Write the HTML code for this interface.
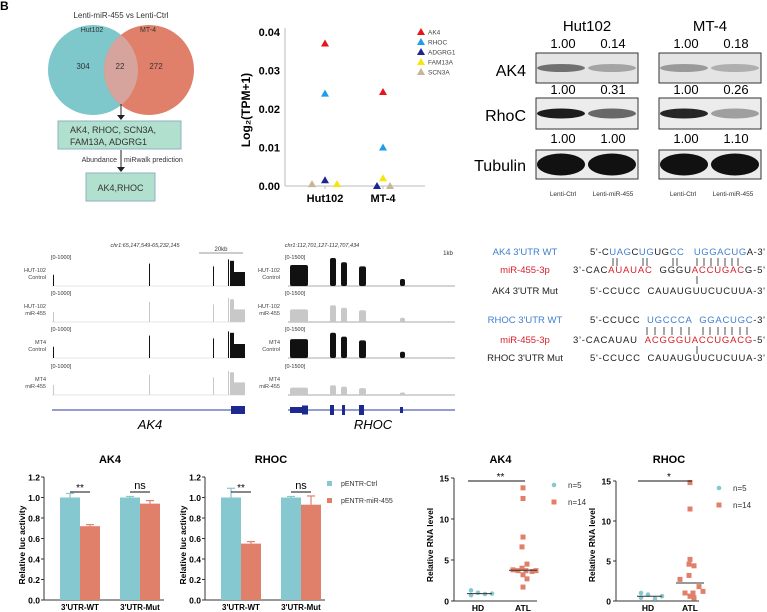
<!DOCTYPE html>
<html><head><meta charset="utf-8">
<style>
html,body{margin:0;padding:0;background:#fff;}
svg{display:block;font-family:"Liberation Sans",sans-serif;}
</style></head>
<body>
<svg id="fig" width="767" height="612" viewBox="0 0 767 612" xmlns="http://www.w3.org/2000/svg">
<g>
<text x="0" y="10" font-size="12" font-weight="bold">B</text>
<text x="121" y="18" font-size="8" text-anchor="middle" fill="#333">Lenti-miR-455 vs Lenti-Ctrl</text>
<circle cx="93" cy="70" r="45" fill="#7ec8cc"/>
<circle cx="149" cy="70" r="45" fill="#e0806b"/>
<path d="M121,34.8 A45,45 0 0,1 121,105.2 A45,45 0 0,1 121,34.8Z" fill="#d6a49c"/>
<text x="92" y="32" font-size="7" text-anchor="middle" fill="#333">Hut102</text>
<text x="148" y="32" font-size="7" text-anchor="middle" fill="#333">MT-4</text>
<text x="83" y="69" font-size="8" text-anchor="middle" fill="#333">304</text>
<text x="120" y="69" font-size="8" text-anchor="middle" fill="#333">22</text>
<text x="156" y="69" font-size="8" text-anchor="middle" fill="#333">272</text>
<line x1="121" y1="104" x2="121" y2="116" stroke="#222" stroke-width="1"/>
<path d="M117,115 L125,115 L121,120Z" fill="#222"/>
<rect x="58" y="121" width="123" height="28" fill="#b2e0cf" stroke="#8fb0c0"/>
<text x="70" y="133" font-size="9" fill="#333">AK4, RHOC, SCN3A,</text>
<text x="70" y="145" font-size="9" fill="#333">FAM13A, ADGRG1</text>
<line x1="121" y1="150" x2="121" y2="168" stroke="#222"/>
<path d="M117,167 L125,167 L121,172Z" fill="#222"/>
<text x="117" y="162" font-size="7" text-anchor="end" fill="#333">Abundance</text>
<text x="124" y="162" font-size="7" fill="#333">miRwalk prediction</text>
<rect x="86" y="173" width="69" height="28" fill="#b2e0cf" stroke="#8fb0c0"/>
<text x="120.5" y="191" font-size="9" text-anchor="middle" fill="#333">AK4,RHOC</text>
</g>
<g id="scatter"></g>
<g id="wb">
<text x="587" y="31" font-size="15" text-anchor="middle">Hut102</text>
<text x="710" y="31" font-size="15" text-anchor="middle">MT-4</text>
<text x="526" y="76" font-size="16" text-anchor="end">AK4</text>
<text x="526" y="121" font-size="16" text-anchor="end">RhoC</text>
<text x="526" y="171" font-size="16" text-anchor="end">Tubulin</text>
<text x="563" y="196" font-size="6.5" text-anchor="middle" fill="#333">Lenti-Ctrl</text>
<text x="613" y="196" font-size="6.5" text-anchor="middle" fill="#333">Lenti-miR-455</text>
<text x="683" y="196" font-size="6.5" text-anchor="middle" fill="#333">Lenti-Ctrl</text>
<text x="733" y="196" font-size="6.5" text-anchor="middle" fill="#333">Lenti-miR-455</text>
</g>
<g id="tracks"></g>
<g id="seq"></g>
<g id="bars"></g>
<g id="dots"></g>
</svg>
<script>
// ---------- data ----------
const scatterGroups = ["Hut102","MT-4"];
const scatterGenes = ["AK4","RHOC","ADGRG1","FAM13A","SCN3A"];
const scatterColors = ["#e8141c","#1e9ee8","#1c2590","#f5e60a","#c8b496"];
const scatterHut = [0.037,0.024,0.0015,0.0005,0.0005];
const scatterMT = [0.0244,0.010,0.0,0.002,0.0];
const scatterTicks = [0,0.01,0.02,0.03,0.04];

const wbNumbers = [["1.00","0.14","1.00","0.18"],["1.00","0.31","1.00","0.26"],["1.00","1.00","1.00","1.10"]];

const lucCats = ["3'UTR-WT","3'UTR-Mut"];
const ak4Ctrl = [1.0,1.0], ak4Ctrl_err=[0.04,0.01];
const ak4Mir = [0.72,0.94], ak4Mir_err=[0.015,0.03];
const rhocCtrl = [1.0,1.0], rhocCtrl_err=[0.09,0.01];
const rhocMir = [0.55,0.93], rhocMir_err=[0.02,0.085];
const lucTicks = [0,0.2,0.4,0.6,0.8,1.0,1.2];
const lucSig = ["**","ns"];
const rhocSig = ["**","ns"];

const dotCats = ["HD","ATL"];
const ak4HD = [1.3,0.7,1.0,0.85,0.9];
const ak4ATL = [13.8,12.5,7.8,6.6,4.5,4.0,3.8,3.6,3.7,3.7,3.7,3.2,2.7,1.7];
const rhocHD = [1.0,0.4,0.8,0.3,0.6];
const rhocATL = [14.8,11.5,5.2,4.6,4.4,3.2,2.7,1.8,1.0,1.0,1.2,0.6,0.4,0.6];
const dotTicks = [0,5,10,15];

// ---------- helpers ----------
const NS="http://www.w3.org/2000/svg";
function mk(parent,tag,attrs,name,txt){
  const el=document.createElementNS(NS,tag);
  for(const k in attrs) el.setAttribute(k,attrs[k]);
  
  
  if(txt!==undefined) el.textContent=txt;
  parent.appendChild(el); return el;
}
function tri(g,cx,cy,c,name){ mk(g,'path',{d:`M${cx-4},${cy+3} L${cx+4},${cy+3} L${cx},${cy-4}Z`,fill:c},name); }

// ---------- scatter ----------
(function(){
  const g=document.getElementById('scatter');
  const x0=285,y0=186,ppu=3850;
  const y=v=>y0-v*ppu;
  const gx=[325,383];
  mk(g,'line',{x1:x0,y1:28,x2:x0,y2:y0,stroke:'#bbb'},'y-axis');
  mk(g,'line',{x1:x0,y1:y0,x2:425,y2:y0,stroke:'#bbb'},'x-axis');
  scatterTicks.forEach(t=>{
    mk(g,'text',{x:x0-5,y:y(t)+4,'font-size':11,'font-weight':'bold','text-anchor':'end'},'y-tick-label',t.toFixed(2));
  });
  scatterGroups.forEach((s,i)=>{
    mk(g,'text',{x:gx[i],y:202,'font-size':11,'font-weight':'bold','text-anchor':'middle'},'x-tick-label',s);
    mk(g,'line',{x1:gx[i],y1:y0,x2:gx[i],y2:y0+3,stroke:'#bbb'},'x-tick');
  });
  mk(g,'text',{x:0,y:0,'font-size':12,'font-weight':'bold','text-anchor':'middle',transform:'translate(250,110) rotate(-90)'},'y-axis-title','Log\u2082(TPM+1)');
  const offsH=[0,0,0,12,-13], offsM=[0,0,-6,0,7];
  scatterGenes.forEach((gn,i)=>{
    tri(g,gx[0]+offsH[i],y(scatterHut[i]),scatterColors[i],'point-hut102-'+gn.toLowerCase());
    tri(g,gx[1]+offsM[i],y(scatterMT[i]),scatterColors[i],'point-mt4-'+gn.toLowerCase());
    tri(g,421,32+i*10,scatterColors[i],'legend-marker');
    mk(g,'text',{x:428,y:34.5+i*10,'font-size':6.5,fill:'#444'},'legend-entry',gn);
  });
})();

// ---------- western blot ----------
(function(){
  const g=document.getElementById('wb');
  const boxes=[[53,83],[98,129],[150,179]];
  const panels=[[536,638],[659,761]];
  const numY=[48,94,143];
  const darkness=[[0.55,0.3,0.35,0.25],[0.95,0.6,0.9,0.35],[1,1,1,1]];
  boxes.forEach((b,r)=>{
    panels.forEach((p,pi)=>{
      mk(g,'rect',{x:p[0],y:b[0],width:p[1]-p[0],height:b[1]-b[0],fill:r==0?'#e4e4e4':'#ececec',stroke:'#333','stroke-width':1},'blot-box');
      for(let l=0;l<2;l++){
        const d=darkness[r][pi*2+l];
        const cx=p[0]+25+l*51, cy=(b[0]+b[1])/2;
        const h=r==2?22:(r==1?10:8);
        mk(g,'ellipse',{cx:cx,cy:cy,rx:24,ry:h/2,fill:'#111','fill-opacity':d},'blot-band');
      }
      const xs=[p[0]+27,p[0]+77];
      for(let l=0;l<2;l++) mk(g,'text',{x:xs[l],y:numY[r],'font-size':13,'text-anchor':'middle'},'band-quantification',wbNumbers[r][pi*2+l]);
    });
  });
})();

// ---------- genome tracks ----------
(function(){
  const g=document.getElementById('tracks');
  const base=[286,322,358,395];
  const labs=[["HUT-102","Control"],["HUT-102","miR-455"],["MT4","Control"],["MT4","miR-455"]];
  const col=["#111","#c8c8c8","#111","#c8c8c8"];
  mk(g,'text',{x:145,y:247,'font-size':5.5,'font-style':'italic','text-anchor':'middle',fill:'#333'},'ak4-coord','chr1:65,147,549-65,232,145');
  mk(g,'line',{x1:199,y1:253,x2:243,y2:253,stroke:'#333','stroke-width':0.5},'scale-bar');
  mk(g,'text',{x:221,y:251,'font-size':6,'text-anchor':'middle',fill:'#333'},'scale-label','20kb');
  mk(g,'text',{x:322,y:247,'font-size':5.5,'font-style':'italic','text-anchor':'middle',fill:'#333'},'rhoc-coord','chr1:112,701,127-112,707,434');
  mk(g,'text',{x:448,y:255,'font-size':6,'text-anchor':'middle',fill:'#333'},'scale-label','1kb');
  const ak4Peaks=[[53,0.4,1],[149,0.8,1],[213,0.7,1],[228,0.95,1],[230,0.9,4],[234,0.5,11]];
  const rhocPeaks=[[290,0.75,18],[330,1,6],[341,0.85,6],[359,0.7,7],[400,0.25,5]];
  base.forEach((b,i)=>{
    const scale=[1,0.6,0.9,0.35][i];
    mk(g,'text',{x:51,y:b-27,'font-size':5.5,fill:'#333'},'track-range','[0-1000]');
    mk(g,'text',{x:285,y:b-27,'font-size':5.5,fill:'#333'},'track-range','[0-1500]');
    [46,280].forEach(x=>{
      mk(g,'text',{x:x,y:b-14,'font-size':5.5,'text-anchor':'end',fill:'#444'},'track-label',labs[i][0]);
      mk(g,'text',{x:x,y:b-7,'font-size':5.5,'text-anchor':'end',fill:'#444'},'track-label',labs[i][1]);
    });
    mk(g,'line',{x1:52,y1:b,x2:245,y2:b,stroke:'#ccc','stroke-width':0.6},'track-baseline');
    mk(g,'line',{x1:288,y1:b,x2:455,y2:b,stroke:'#555','stroke-width':0.6},'track-baseline');
    ak4Peaks.forEach(p=>{
      const h=p[1]*28*(i%2?0.9:1);
      mk(g,'rect',{x:p[0],y:b-h,width:p[2],height:h,fill:col[i]},'ak4-peak');
    });
    rhocPeaks.forEach(p=>{
      const h=p[1]*28*scale;
      mk(g,'rect',{x:p[0],y:b-h,width:p[2],height:h,rx:2,fill:col[i]},'rhoc-peak');
    });
  });
  mk(g,'line',{x1:52,y1:410,x2:245,y2:410,stroke:'#2a3aa0'},'ak4-gene-line');
  mk(g,'rect',{x:231,y:406,width:14,height:8,fill:'#1c2a90'},'ak4-exon');
  mk(g,'line',{x1:288,y1:410,x2:455,y2:410,stroke:'#2a3aa0'},'rhoc-gene-line');
  [[290,13,4],[302,6,7],[330,4,8],[342,3,8],[359,5,8],[400,3,4]].forEach(e=>{
    mk(g,'rect',{x:e[0],y:410-e[2]/2-1,width:e[1],height:e[2]+2,fill:'#1c2a90'},'rhoc-exon');
  });
  mk(g,'text',{x:150,y:429,'font-size':13,'font-style':'italic','text-anchor':'middle'},'gene-name-ak4','AK4');
  mk(g,'text',{x:373,y:429,'font-size':13,'font-style':'italic','text-anchor':'middle'},'gene-name-rhoc','RHOC');
})();

// ---------- sequences ----------
(function(){
  const g=document.getElementById('seq');
  const B='#3f7fd0',R='#d8202a',K='#222';
  const rows=[
    [255,'AK4 3\'UTR WT',B,590,[["5'-C",K],["UAG",B],["C",K],["UG",B],["UG",K],["CC",B],["\u00a0\u00a0\u00a0",K],["UGGACUG",B],["A-3'",K]]],
    [273,'miR-455-3p',R,573,[["3'-CAC",K],["AUAUAC",R],["\u00a0\u00a0",K],["GGGU",K],["ACCUGAC",R],["G-5'",K]]],
    [294,'AK4 3\'UTR Mut',K,590,[["5'-CCUCC\u00a0\u00a0CAUAUGUUCUCUUA-3'",K]]],
    [323,'RHOC 3\'UTR WT',B,590,[["5'-CCUCC\u00a0\u00a0",K],["UGCCCA",B],["\u00a0\u00a0",K],["GGACUGC",B],["-3'",K]]],
    [343,'miR-455-3p',R,573,[["3'-CACAUAU\u00a0\u00a0",K],["ACGGGUACCUGACG",R],["-5'",K]]],
    [361,'RHOC 3\'UTR Mut',K,590,[["5'-CCUCC\u00a0\u00a0CAUAUGUUCUCUUA-3'",K]]]
  ];
  rows.forEach(r=>{
    mk(g,'text',{x:525,y:r[0],'font-size':9.5,'text-anchor':'middle',fill:r[2]},'sequence-label',r[1]);
    const t=mk(g,'text',{x:r[3],y:r[0],'font-size':9.5,textLength:765-r[3],lengthAdjust:'spacing'},'sequence');
    r[4].forEach(s=>{ mk(t,'tspan',{fill:s[1]},'sequence-segment',s[0]); });
  });
  const ak4Pairs=[613,617,643,647,673,677,697,704,711,718,725,732,738];
  ak4Pairs.forEach(x=>mk(g,'line',{x1:x,y1:258,x2:x,y2:266,stroke:K,'stroke-width':0.8},'pairing-bar'));
  const rhocPairs=[647,655,664,672,681,689,703,710,718,725,732,740,747];
  rhocPairs.forEach(x=>mk(g,'line',{x1:x,y1:327,x2:x,y2:335,stroke:K,'stroke-width':0.8},'pairing-bar'));
  mk(g,'line',{x1:697,y1:276,x2:697,y2:284,stroke:K,'stroke-width':0.8},'mutation-bar');
  mk(g,'line',{x1:697,y1:346,x2:697,y2:354,stroke:K,'stroke-width':0.8},'mutation-bar');
})();

// ---------- bar charts ----------
(function(){
  const g=document.getElementById('bars');
  const C1='#86c8cf',C2='#e0806b';
  function chart(ax,title,ctrl,ce,mir,me,sig,name){
    const y0=600,ppu=102.5,y=v=>y0-v*ppu;
    const catX=[ax+36,ax+96];
    mk(g,'text',{x:ax+66,y:463,'font-size':11,'font-weight':'bold','text-anchor':'middle'},name+'-title',title);
    mk(g,'line',{x1:ax,y1:y(1.2),x2:ax,y2:y0,stroke:'#333'},name+'-y-axis');
    mk(g,'line',{x1:ax,y1:y0,x2:ax+120,y2:y0,stroke:'#333'},name+'-x-axis');
    lucTicks.forEach(t=>{
      mk(g,'line',{x1:ax-3,y1:y(t),x2:ax,y2:y(t),stroke:'#333'},'y-tick');
      mk(g,'text',{x:ax-4,y:y(t)+3.5,'font-size':8.5,'font-weight':'bold','text-anchor':'end'},'y-tick-label',t.toFixed(1));
    });
    mk(g,'text',{x:0,y:0,'font-size':8.5,'font-weight':'bold','text-anchor':'middle',transform:`translate(${ax-19},545) rotate(-90)`},'y-axis-title','Relative luc activity');
    lucCats.forEach((c,i)=>{
      const cx=catX[i];
      const ec=cx-10, em=cx+10;
      mk(g,'line',{x1:ec,y1:y(ctrl[i]),x2:ec,y2:y(ctrl[i]+ce[i]),stroke:C1,'stroke-width':1.2},'error-bar');
      mk(g,'line',{x1:ec-4,y1:y(ctrl[i]+ce[i]),x2:ec+4,y2:y(ctrl[i]+ce[i]),stroke:C1,'stroke-width':1.2},'error-cap');
      mk(g,'rect',{x:cx-20,y:y(ctrl[i]),width:20,height:ctrl[i]*ppu,fill:C1},'bar-ctrl-'+i);
      mk(g,'line',{x1:em,y1:y(mir[i]),x2:em,y2:y(mir[i]+me[i]),stroke:C2,'stroke-width':1.2},'error-bar');
      mk(g,'line',{x1:em-4,y1:y(mir[i]+me[i]),x2:em+4,y2:y(mir[i]+me[i]),stroke:C2,'stroke-width':1.2},'error-cap');
      mk(g,'rect',{x:cx,y:y(mir[i]),width:20,height:mir[i]*ppu,fill:C2},'bar-mir-'+i);
      mk(g,'text',{x:cx,y:610,'font-size':8,'font-weight':'bold','text-anchor':'middle'},'x-tick-label',c);
      mk(g,'line',{x1:cx-10,y1:492,x2:cx+10,y2:492,stroke:'#111'},'sig-line');
      mk(g,'text',{x:cx,y:sig[i]=='ns'?489:491,'font-size':sig[i]=='ns'?11:10,'text-anchor':'middle'},'sig-label',sig[i]);
    });
  }
  chart(44,'AK4',ak4Ctrl,ak4Ctrl_err,ak4Mir,ak4Mir_err,lucSig,'ak4-luc');
  chart(205,'RHOC',rhocCtrl,rhocCtrl_err,rhocMir,rhocMir_err,rhocSig,'rhoc-luc');
  mk(g,'rect',{x:327,y:481,width:5,height:5,fill:C1},'legend-marker');
  mk(g,'text',{x:341,y:486,'font-size':7,fill:'#333'},'legend-entry','pENTR-Ctrl');
  mk(g,'rect',{x:327,y:498,width:5,height:5,fill:C2},'legend-marker');
  mk(g,'text',{x:341,y:503,'font-size':7,fill:'#333'},'legend-entry','pENTR-miR-455');
})();

// ---------- dot plots ----------
(function(){
  const g=document.getElementById('dots');
  const C1='#86c8cf',C2='#e0806b';
  const jitHD=[-7,-7,0,7,14], jitATL=[0,0,0,-1,4,-1,-10,9,-5,3,13,0,4,0];
  function median(a){const s=[...a].sort((p,q)=>p-q);const m=s.length>>1;return s.length%2?s[m]:(s[m-1]+s[m])/2;}
  function plot(ax,top15,hdX,atlX,hd,atl,sig,title,legX,legY,name){
    const y0=601,ppu=(y0-top15)/15,y=v=>y0-v*ppu;
    mk(g,'text',{x:(hdX+atlX)/2,y:463,'font-size':11,'font-weight':'bold','text-anchor':'middle'},name+'-title',title);
    mk(g,'line',{x1:ax,y1:top15,x2:ax,y2:y0,stroke:'#333'},name+'-y-axis');
    mk(g,'line',{x1:ax,y1:y0,x2:ax+83,y2:y0,stroke:'#333'},name+'-x-axis');
    dotTicks.forEach(t=>{
      mk(g,'line',{x1:ax-3,y1:y(t),x2:ax,y2:y(t),stroke:'#333'},'y-tick');
      mk(g,'text',{x:ax-5,y:y(t)+3.5,'font-size':8.5,'font-weight':'bold','text-anchor':'end'},'y-tick-label',String(t));
    });
    mk(g,'text',{x:0,y:0,'font-size':8.5,'font-weight':'bold','text-anchor':'middle',transform:`translate(${ax-21},545) rotate(-90)`},'y-axis-title','Relative RNA level');
    [hdX,atlX].forEach((x,i)=>mk(g,'text',{x:x,y:611,'font-size':8.5,'font-weight':'bold','text-anchor':'middle'},'x-tick-label',dotCats[i]));
    hd.forEach((v,i)=>mk(g,'circle',{cx:hdX+jitHD[i],cy:y(v),r:2.3,fill:C1},'point-hd'));
    atl.forEach((v,i)=>mk(g,'rect',{x:atlX+jitATL[i]-2.5,y:y(v)-2.5,width:5,height:5,fill:C2},'point-atl'));
    mk(g,'line',{x1:hdX-11,y1:y(median(hd)),x2:hdX+14,y2:y(median(hd)),stroke:'#333'},'median-hd');
    mk(g,'line',{x1:atlX-14,y1:y(median(atl)),x2:atlX+14,y2:y(median(atl)),stroke:'#333'},'median-atl');
    mk(g,'line',{x1:hdX-10,y1:481,x2:atlX+2,y2:481,stroke:'#111'},'sig-line');
    mk(g,'text',{x:(hdX+atlX)/2,y:480,'font-size':10,'text-anchor':'middle'},'sig-label',sig);
    mk(g,'circle',{cx:legX,cy:legY,r:2.3,fill:C1},'legend-marker');
    mk(g,'text',{x:legX+14,y:legY+3,'font-size':8,fill:'#333'},'legend-entry','n=5');
    mk(g,'rect',{x:legX-2.5,y:legY+14.5,width:5,height:5,fill:C2},'legend-marker');
    mk(g,'text',{x:legX+14,y:legY+20,'font-size':8,fill:'#333'},'legend-entry','n=14');
  }
  plot(454,478,478,523,ak4HD,ak4ATL,'**','AK4',554,485,'ak4-dot');
  plot(616,481,648,690,rhocHD,rhocATL,'*','RHOC',719,488,'rhoc-dot');
})();
</script>
</body></html>
